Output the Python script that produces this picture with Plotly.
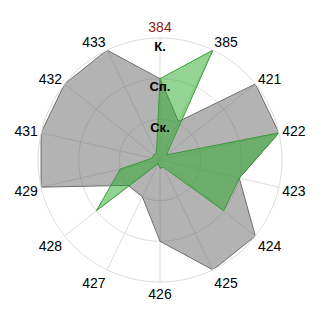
import plotly.graph_objects as go

categories = ['384', '385', '421', '422', '423', '424', '425', '426', '427', '428', '429', '431', '432', '433']
gray_values = [2.0, 1.05, 3.0, 3.0, 2.0, 3.0, 3.0, 2.0, 1.0, 1.0, 3.0, 3.0, 3.0, 3.0]
green_values = [2.0, 3.0, 0.2, 3.0, 2.0, 2.0, 0.2, 0.2, 0.1, 2.0, 1.0, 0.2, 0.2, 0.2]
radial_levels = [1, 2, 3]
radial_labels = ['Ск.', 'Сп.', 'К.']
highlight_category = '384'

R_MAX = 3.0
LEVEL_LABEL_OFFSET = 0.23  # level labels sit just below their circle

tick_text = [f'<span style="color:#8b1a1a">{c}</span>' if c == highlight_category else c
             for c in categories]

fig = go.Figure()
fig.add_trace(go.Scatterpolar(
    r=gray_values + gray_values[:1], theta=categories + categories[:1],
    mode='lines', fill='toself',
    fillcolor='rgba(110,110,110,0.52)',
    line=dict(color='#6e6e6e', width=1),
    hoverinfo='skip', showlegend=False))
fig.add_trace(go.Scatterpolar(
    r=green_values + green_values[:1], theta=categories + categories[:1],
    mode='lines', fill='toself',
    fillcolor='rgba(40,170,40,0.5)',
    line=dict(color='#3a9a3a', width=1),
    hoverinfo='skip', showlegend=False))
fig.add_trace(go.Scatterpolar(
    r=[lv - LEVEL_LABEL_OFFSET for lv in radial_levels],
    theta=[highlight_category] * len(radial_levels),
    mode='text', text=radial_labels, textposition='middle center',
    textfont=dict(family='Liberation Sans, Arial', size=13, color='black', weight='bold'),
    hoverinfo='skip', showlegend=False))

fig.update_layout(
    width=320, height=320,
    margin=dict(l=38, r=38, t=38, b=38),
    paper_bgcolor='white',
    font=dict(family='Liberation Sans, Arial', size=14, color='black'),
    polar=dict(
        bgcolor='white',
        angularaxis=dict(
            type='category', categoryorder='array', categoryarray=categories,
            rotation=90, direction='clockwise',
            tickmode='array', tickvals=categories, ticktext=tick_text,
            ticks='', showline=True, linecolor='#dcdcdc', linewidth=1,
            gridcolor='#dcdcdc', tickfont=dict(size=14, color='black')),
        radialaxis=dict(
            range=[0, R_MAX], tickvals=radial_levels, showticklabels=False,
            ticks='', showline=False, gridcolor='#dcdcdc')))

fig.write_html('out.html')
